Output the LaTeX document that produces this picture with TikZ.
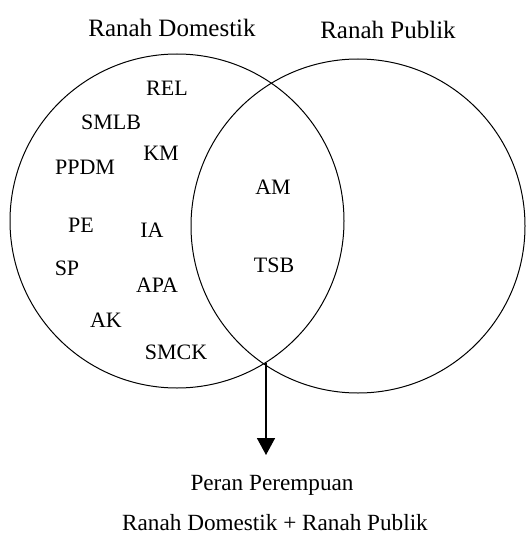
\documentclass[tikz,border=0pt]{standalone}
\usepackage{fontspec}
\setmainfont{Liberation Serif}
\usetikzlibrary{arrows.meta}

\begin{document}
\begin{tikzpicture}[x=0.5pt, y=-0.5pt, font=\fontsize{11}{13}\selectfont,
  ranah/.style={circle, draw, line width=0.5pt, minimum size=167pt, inner sep=0pt},
  judul/.style={font=\fontsize{12.5}{15}\selectfont},
  ket/.style={font=\fontsize{11.6}{14}\selectfont},
  panah/.style={-{Triangle[width=9pt, length=8.5pt]}, line width=0.8pt}]
\useasboundingbox (0,0) rectangle (528,535);
\node[ranah] (dom) at (177,221) {};
\node[ranah] (pub) at (358,226) {};
\path
(172,28) node[judul] (jdom) {Ranah Domestik};
\path
(388,30) node[judul] (jpub) {Ranah Publik};
\foreach \x/\y/\t in {167/88/REL, 111/122/SMLB, 161/153/KM, 85/167/PPDM, 81/225/PE,
  152/230/IA, 67/268/SP, 157/285/APA, 106/320/AK, 176/352/SMCK, 273/187/AM, 274/265/TSB}
  \node (\t) at (\x,\y) {\t};
\coordinate (potong) at (266,363);
\coordinate (ujung) at (266,455);
\draw[panah] (potong) -- (ujung);
\path
(272,485) node[ket] (peran) {Peran Perempuan};
\path
(275,523) node[ket] (gabung) {Ranah Domestik + Ranah Publik};
\end{tikzpicture}
\end{document}
